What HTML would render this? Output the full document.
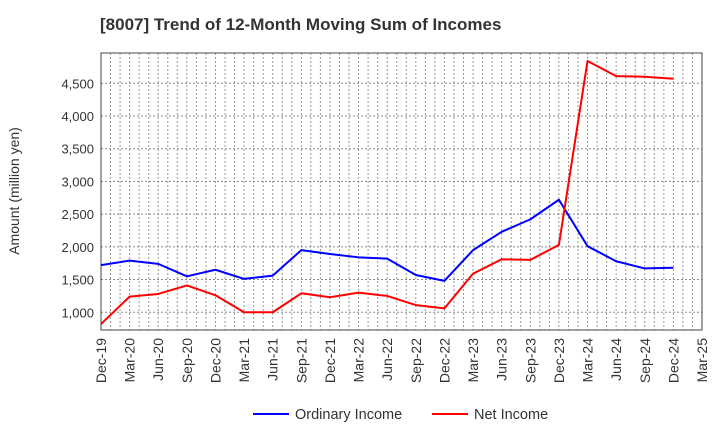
<!DOCTYPE html>
<html><head><meta charset="utf-8"><style>
body{margin:0;background:#fff;font-family:"Liberation Sans",sans-serif;}
svg text{font-family:"Liberation Sans",sans-serif;}
</style></head><body>
<svg id="chart" width="720" height="440" viewBox="0 0 720 440" xmlns="http://www.w3.org/2000/svg">
<rect width="720" height="440" fill="#fff"/>
<text x="100" y="30" font-size="17" font-weight="bold" fill="#333">[8007]  Trend of 12-Month Moving Sum of Incomes</text>
<g id="grid"></g><g id="axes"></g><g id="series"></g>
<text transform="translate(19,191) rotate(-90)" text-anchor="middle" font-size="14" fill="#333">Amount (million yen)</text>
<g>
<line x1="253" y1="414" x2="289" y2="414" stroke="#0000ff" stroke-width="2"/>
<text x="295" y="419" font-size="14.5" fill="#333">Ordinary Income</text>
<line x1="432" y1="414" x2="468" y2="414" stroke="#ff0000" stroke-width="2"/>
<text x="474" y="419" font-size="14.5" fill="#333">Net Income</text>
</g>
</svg>
<script>
const xLabels=["Dec-19","Mar-20","Jun-20","Sep-20","Dec-20","Mar-21","Jun-21","Sep-21","Dec-21","Mar-22","Jun-22","Sep-22","Dec-22","Mar-23","Jun-23","Sep-23","Dec-23","Mar-24","Jun-24","Sep-24","Dec-24","Mar-25"];
const yTicks=[1000,1500,2000,2500,3000,3500,4000,4500];
const ordinaryIncome=[1720,1790,1740,1550,1650,1510,1560,1950,1890,1840,1820,1570,1480,1950,2230,2420,2720,2010,1780,1670,1680];
const netIncome=[820,1240,1280,1410,1260,1000,1000,1290,1230,1300,1250,1110,1060,1590,1810,1800,2030,4840,4610,4600,4570];
const L=101,R=702,T=53,B=330,yMin=729,yMax=4963;
const NS="http://www.w3.org/2000/svg";
const nMonths=(xLabels.length-1)*3;
function xq(i){return L+(R-L)*(i*3)/nMonths;}
function xm(m){return L+(R-L)*m/nMonths;}
function y(v){return B-(v-yMin)/(yMax-yMin)*(B-T);}
function mk(tag,attrs,parent){const e=document.createElementNS(NS,tag);for(const k in attrs)e.setAttribute(k,attrs[k]);parent.appendChild(e);return e;}
const grid=document.getElementById('grid'),axes=document.getElementById('axes'),series=document.getElementById('series');
for(let m=1;m<nMonths;m++){
  const l=mk('line',{x1:xm(m),x2:xm(m),y1:T,y2:B,stroke:'#999','stroke-width':1,'stroke-dasharray':'2,2'},grid);
  
  
}
yTicks.forEach(v=>{
  const l=mk('line',{x1:L,x2:R,y1:y(v),y2:y(v),stroke:'#888','stroke-width':1,'stroke-dasharray':'2,2'},grid);
  
  
  const t=mk('text',{x:L-7,y:y(v)+5,'text-anchor':'end','font-size':13,fill:'#333'},axes);
  t.textContent=v.toLocaleString('en-US');
  
  
});
xLabels.forEach((s,i)=>{
  const x=xq(i);
  const t=mk('text',{x:x+5,y:B+8,'text-anchor':'end','font-size':14,fill:'#333',transform:`rotate(-90 ${x+5} ${B+8})`},axes);
  t.textContent=s;
  
  
});
const frame=mk('rect',{x:L,y:T,width:R-L,height:B-T,fill:'none',stroke:'#444','stroke-width':1},axes);


function line(data,color,name){
  const p=mk('polyline',{points:data.map((v,i)=>xq(i)+','+y(v)).join(' '),fill:'none',stroke:color,'stroke-width':2,'stroke-linejoin':'round'},series);
  
  
}
line(ordinaryIncome,'#0000ff','ordinary-income-line');
line(netIncome,'#ff0000','net-income-line');
</script>
</body></html>
